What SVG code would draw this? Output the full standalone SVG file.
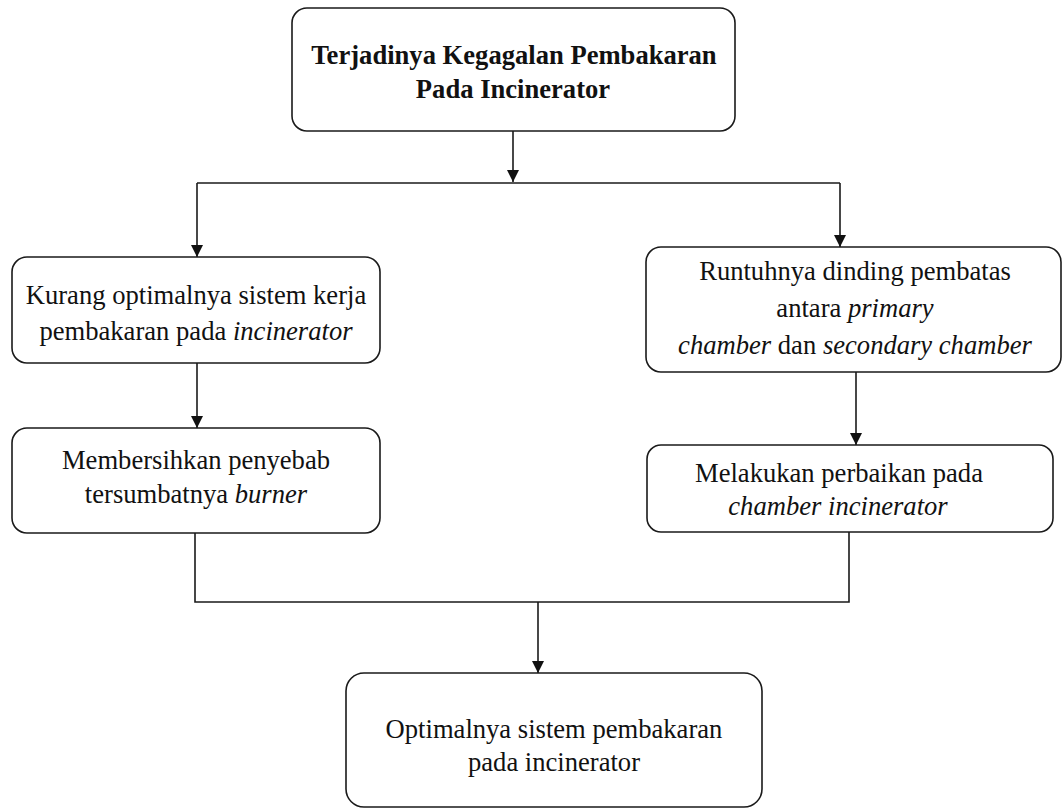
<svg xmlns="http://www.w3.org/2000/svg" width="1062" height="810" viewBox="0 0 1062 810">
<defs>
<marker id="arr" viewBox="0 0 12 12" refX="12" refY="6" markerWidth="12" markerHeight="13" markerUnits="userSpaceOnUse" orient="auto">
<path d="M0,0 L12,6 L0,12 Z" fill="#111"/>
</marker>
<style>
.box{fill:#fff;stroke:#1a1a1a;stroke-width:1.6}
.t{font-family:"Liberation Serif","Times New Roman",serif;font-size:26.6px;fill:#111;text-anchor:middle}
.b{font-weight:bold}
.i{font-style:italic}
.c{fill:none;stroke:#1a1a1a;stroke-width:1.6}
</style>
</defs>
<rect width="1062" height="810" fill="#fff"/>
<g id="connectors">
<path class="c" d="M513,131 V182" marker-end="url(#arr)"/>
<path class="c" d="M197,183 H840"/>
<path class="c" d="M197,183 V257" marker-end="url(#arr)"/>
<path class="c" d="M840,183 V247" marker-end="url(#arr)"/>
<path class="c" d="M197,363 V428" marker-end="url(#arr)"/>
<path class="c" d="M856,372 V445" marker-end="url(#arr)"/>
<path class="c" d="M195,533 V602 H849 V532"/>
<path class="c" d="M538,602 V673" marker-end="url(#arr)"/>
</g>
<g id="n1">
<rect class="box" x="292" y="8" width="443" height="123" rx="15"/>
<text class="t b" x="514" y="64">Terjadinya Kegagalan Pembakaran</text>
<text class="t b" x="513" y="98">Pada Incinerator</text>
</g>
<g id="n2">
<rect class="box" x="12" y="257" width="368" height="106" rx="15"/>
<text class="t" x="196" y="304">Kurang optimalnya sistem kerja</text>
<text class="t" x="196" y="340">pembakaran pada <tspan class="i">incinerator</tspan></text>
</g>
<g id="n3">
<rect class="box" x="12" y="428" width="368" height="105" rx="15"/>
<text class="t" x="196" y="469">Membersihkan penyebab</text>
<text class="t" x="196" y="503">tersumbatnya <tspan class="i">burner</tspan></text>
</g>
<g id="n4">
<rect class="box" x="646" y="247" width="415" height="125" rx="15"/>
<text class="t" x="855" y="280">Runtuhnya dinding pembatas</text>
<text class="t" x="855" y="317">antara <tspan class="i">primary</tspan></text>
<text class="t" x="855" y="354"><tspan class="i">chamber</tspan> dan <tspan class="i">secondary chamber</tspan></text>
</g>
<g id="n5">
<rect class="box" x="647" y="445" width="406" height="87" rx="14"/>
<text class="t" x="839" y="482">Melakukan perbaikan pada</text>
<text class="t i" x="838" y="515">chamber incinerator</text>
</g>
<g id="n6">
<rect class="box" x="346" y="673" width="416" height="134" rx="18"/>
<text class="t" x="554" y="738">Optimalnya sistem pembakaran</text>
<text class="t" x="554" y="771">pada incinerator</text>
</g>
</svg>
